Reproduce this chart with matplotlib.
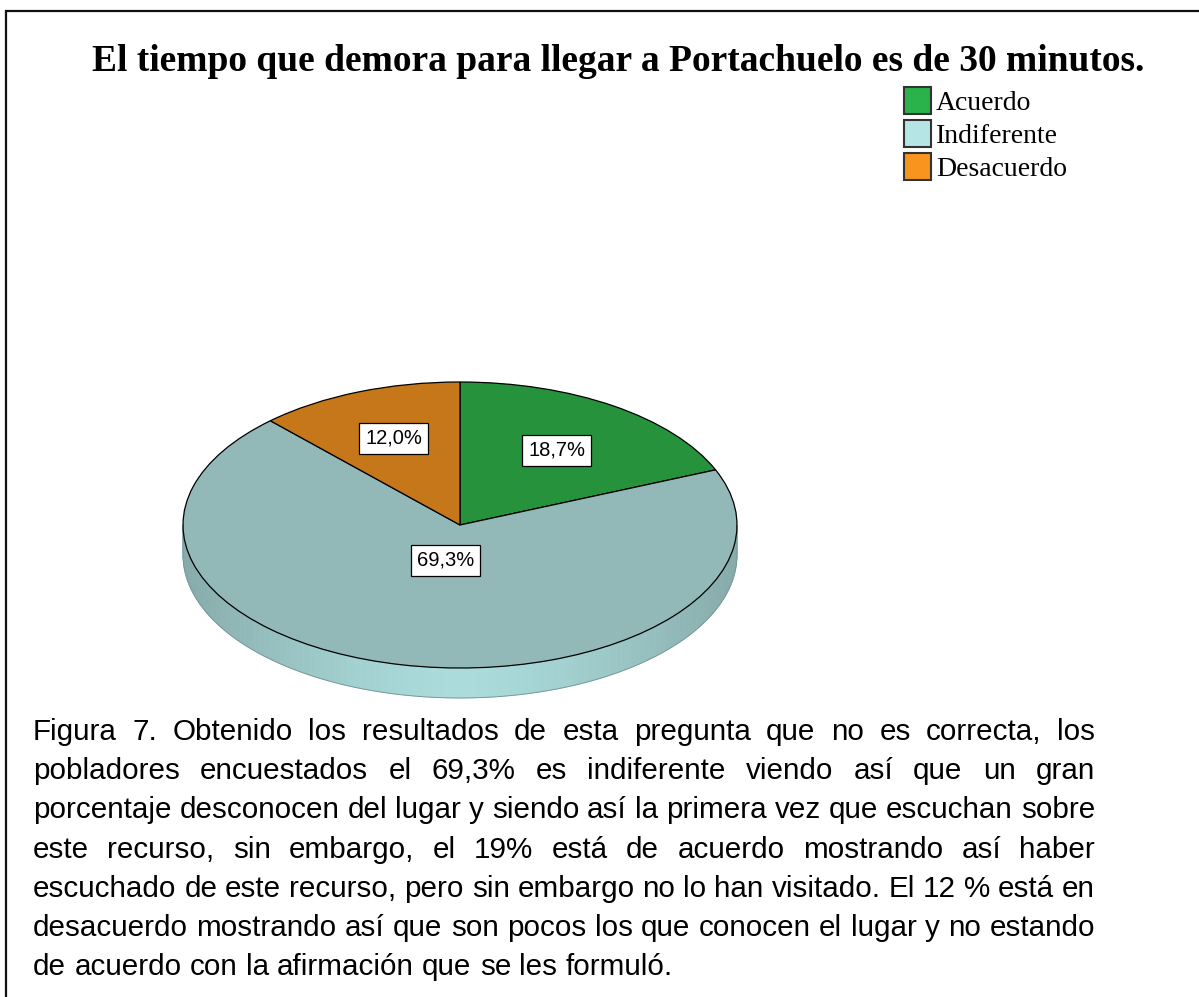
import numpy as np
import matplotlib
matplotlib.use('Agg')
import matplotlib.pyplot as plt
from matplotlib.patches import Patch, Polygon
from matplotlib.colors import to_rgb

# --- 1. datos ---
titulo = "El tiempo que demora para llegar a Portachuelo es de 30 minutos."
categorias = ['Acuerdo', 'Indiferente', 'Desacuerdo']
porcentajes = [18.7, 69.3, 12.0]
colores_cara = ['#26933c', '#92b8b8', '#c5771a']      # cara superior (sombreada)
colores_leyenda = ['#2bb34b', '#b6e5e6', '#f7951f']
lineas_texto = [
    "Figura 7. Obtenido los resultados de esta pregunta que no es correcta, los",
    "pobladores encuestados el 69,3% es indiferente viendo así que un gran",
    "porcentaje desconocen del lugar y siendo así la primera vez que escuchan sobre",
    "este recurso, sin embargo, el 19% está de acuerdo mostrando así haber",
    "escuchado de este recurso, pero sin embargo no lo han visitado. El 12 % está en",
    "desacuerdo mostrando así que son pocos los que conocen el lugar y no estando",
    "de acuerdo con la afirmación que se les formuló.",
]

W, H = 1199, 997
fig = plt.figure(figsize=(W / 100, H / 100), dpi=100, facecolor='white')

# --- 2. fondo en pixeles ---
bg = fig.add_axes([0, 0, 1, 1])
bg.set_xlim(0, W)
bg.set_ylim(H, 0)
bg.axis('off')

# marco (solo arriba e izquierda)
bg.plot([6, 6, W], [H, 11, 11], color='#111111', lw=1.6, solid_joinstyle='miter')

bg.text(618, 71, titulo, ha='center', va='baseline', fontsize=27,
        fontweight='bold', family='Liberation Serif')

# --- 3. pastel 3D ---
cx, cy, rx, ry = 460, 525, 277, 143
prof = 30 / ry
m = 1.1
ax = fig.add_axes([(cx - m * rx) / W, 1 - (cy + (m + prof) * ry) / H,
                   2 * m * rx / W, (2 * m + prof) * ry / H])
wedges, _ = ax.pie(porcentajes, colors=colores_cara, startangle=90, counterclock=False,
                   wedgeprops=dict(edgecolor='black', linewidth=0.9))
ax.set_aspect('auto')
ax.set_xlim(-m, m)
ax.set_ylim(-m - prof, m)
ax.axis('off')

# lateral (solo se ve la mitad delantera)
claro = np.array(to_rgb('#abdbdb'))
oscuro = np.array(to_rgb('#86a9a9'))
t = np.linspace(np.pi, 2 * np.pi, 121)
for t0, t1 in zip(t[:-1], t[1:]):
    k = abs(np.cos(0.5 * (t0 + t1))) ** 1.5
    col = claro * (1 - k) + oscuro * k
    pts = [(np.cos(t0), np.sin(t0)), (np.cos(t1), np.sin(t1)),
           (np.cos(t1), np.sin(t1) - prof), (np.cos(t0), np.sin(t0) - prof)]
    ax.add_patch(Polygon(pts, closed=True, facecolor=col, edgecolor=col, lw=0.5, zorder=0))
ax.plot(np.r_[-1, np.cos(t), 1], np.r_[0, np.sin(t) - prof, 0],
        color='#7a9a9a', lw=0.7, zorder=0.5)

# etiquetas en el centroide de cada sector
for w, v in zip(wedges, porcentajes):
    a1, a2 = np.radians(w.theta1), np.radians(w.theta2)
    alfa = (a2 - a1) / 2
    r = 2 * np.sin(alfa) / (3 * alfa)
    am = (a1 + a2) / 2
    ax.text(r * np.cos(am), r * np.sin(am), f"{v:.1f}%".replace('.', ','),
            ha='center', va='center', fontsize=14.5, family='Liberation Sans', zorder=5,
            bbox=dict(boxstyle='square,pad=0.3', facecolor='white',
                      edgecolor='black', linewidth=0.9))

# --- 4. leyenda ---
handles = [Patch(facecolor=c, edgecolor='#333333', linewidth=1.5) for c in colores_leyenda]
fig.legend(handles, categorias, loc='upper left', bbox_to_anchor=(904 / W, 1 - 87 / H),
           frameon=False, prop=dict(family='Liberation Serif', size=20),
           handlelength=0.97, handleheight=1.1, handletextpad=0.18,
           labelspacing=0.16, borderpad=0, borderaxespad=0)

# --- 5. parrafo justificado ---
renderer = fig.canvas.get_renderer()
fs = 21.3
x_izq, x_der = 33, 1095
y0, dy = 740, 39.2

t1 = bg.text(0, 0, 'a a', fontsize=fs, family='Liberation Sans')
t2 = bg.text(0, 0, 'aa', fontsize=fs, family='Liberation Sans')
espacio = t1.get_window_extent(renderer).width - t2.get_window_extent(renderer).width
t1.remove(); t2.remove()

for i, linea in enumerate(lineas_texto):
    palabras = linea.split(' ')
    objs = [bg.text(0, y0 + i * dy, p, fontsize=fs, family='Liberation Sans',
                    ha='left', va='baseline') for p in palabras]
    anchos = [o.get_window_extent(renderer).width for o in objs]
    if i < len(lineas_texto) - 1:
        hueco = (x_der - x_izq - sum(anchos)) / (len(palabras) - 1)
    else:
        hueco = espacio
    x = x_izq
    for o, a in zip(objs, anchos):
        o.set_x(x)
        x += a + hueco

fig.savefig('out.png', dpi=100, facecolor='white')
